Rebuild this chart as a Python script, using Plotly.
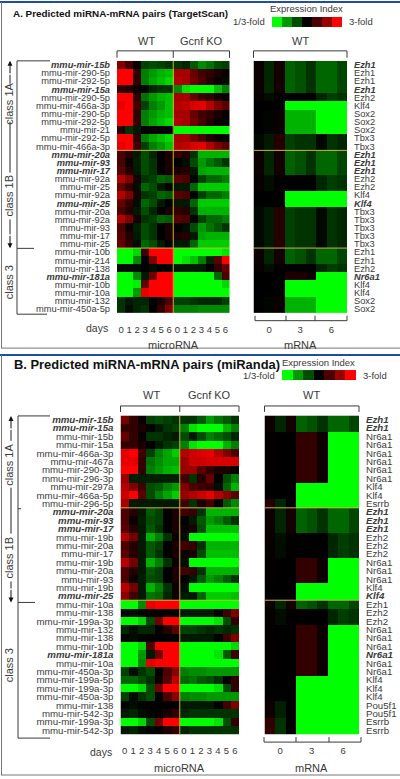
import plotly.graph_objects as go

W, H = 400, 779
FONT = "Liberation Sans"
GREY = "#3a3a3a"
COLORSCALE = [[0, "#00ff00"], [0.5, "#000000"], [1, "#ff0000"]]

def b(s):
    return f"<b><i>{s}</i></b>"

DAYS = ["0", "1", "2", "3", "4", "5", "6", "0", "1", "2", "3", "4", "5", "6"]
MRNA_DAYS = ["0", "3", "6"]
LEGEND_VALUES = [-1, -0.6, -0.3, 0, 0.3, 0.6, 1]

A_MIR_LABELS = [b("mmu-mir-15b"), "mmu-mir-290-5p", "mmu-mir-292-5p", b("mmu-mir-15a"), "mmu-mir-290-5p",
                "mmu-mir-466a-3p", "mmu-mir-290-5p", "mmu-mir-292-5p", "mmu-mir-21", "mmu-mir-292-5p",
                "mmu-mir-466a-3p", b("mmu-mir-20a"), b("mmu-mir-93"), b("mmu-mir-17"), "mmu-mir-92a", "mmu-mir-25",
                "mmu-mir-92a", b("mmu-mir-25"), "mmu-mir-20a", "mmu-mir-92a", "mmu-mir-93", "mmu-mir-17", "mmu-mir-25",
                "mmu-mir-10b", "mmu-mir-214", "mmu-mir-138", b("mmu-mir-181a"), "mmu-mir-10b", "mmu-mir-10a",
                "mmu-mir-132", "mmu-mir-450a-5p"]
A_MIR_VALUES = [
    [.5, .25, .03, -.25, -.3, -.25, -.2, -.2, -.15, -.35, -.55, -.45, -.3, -.25],
    [1, 1, .2, -.5, -.6, -.7, -.75, .65, .65, .4, .25, .2, .1, .05],
    [1, 1, .2, -.5, -.65, -.75, -.85, .7, .65, .45, .3, .15, .05, -.05],
    [.2, .15, .05, -.03, -.15, -.2, -.2, -.55, -.9, -1, -1, -1, -.75, -.5],
    [1, 1, .2, -.45, -.6, -.7, -.75, .65, .65, .4, .25, .2, .08, .03],
    [.9, 1, .25, -.25, -.5, -.6, -.75, .7, .75, .85, .9, .7, .5, .35],
    [1, 1, .2, -.5, -.6, -.7, -.75, .65, .65, .4, .25, .2, .1, .03],
    [1, 1, .2, -.5, -.65, -.75, -.85, .7, .65, .45, .3, .15, .05, -.03],
    [.15, -.2, -.1, 0, .02, .02, .02, -1, -1, -1, -1, -1, -1, -1],
    [1, 1, .2, -.5, -.65, -.75, -.85, .65, .65, .45, .3, .15, .05, -.03],
    [.9, 1, .25, -.25, -.5, -.6, -.75, .7, .75, .85, .9, .7, .5, .35],
    [.3, .15, -.1, -.3, -.15, 0, .1, .2, .15, -.2, -.7, -.7, -.7, -.7],
    [.3, .05, -.12, -.3, -.2, 0, .1, 0, -.05, -.3, -.6, -.45, -.35, -.2],
    [.35, .15, -.1, -.3, -.2, 0, .1, .1, .15, -.1, -.65, -.7, -.7, -.7],
    [.7, .5, .1, -.2, -.25, -.4, -.35, .35, .3, -.02, -.25, -.4, -.4, -.5],
    [.4, .2, -.05, -.4, -.3, -.1, 0, -.1, -.1, -.4, -.8, -.8, -.8, -.8],
    [.7, .5, .1, -.2, -.25, -.4, -.35, .35, .3, -.02, -.25, -.4, -.4, -.5],
    [.4, .2, -.05, -.4, -.3, -.1, 0, -.1, -.1, -.4, -.8, -.8, -.8, -.8],
    [.3, .15, -.1, -.3, -.15, 0, .1, .2, .15, -.2, -.7, -.7, -.7, -.7],
    [.7, .5, .1, -.2, -.25, -.4, -.35, .35, .3, -.02, -.25, -.4, -.4, -.5],
    [.3, .05, -.12, -.3, -.2, 0, .1, 0, -.05, -.3, -.6, -.45, -.35, -.2],
    [.35, .15, -.1, -.3, -.2, 0, .1, .1, .15, -.1, -.65, -.7, -.7, -.7],
    [.4, .2, -.05, -.4, -.3, -.1, 0, -.1, -.1, -.4, -.8, -.8, -.8, -.8],
    [-1, -1, -.85, .25, 1, 1, 1, -1, -1, -1, -1, -1, -1, -.9],
    [-1, -1, -.55, 0, .5, 1, 1, -1, -.9, -.75, -.5, -.15, .35, 1],
    [-.05, -.05, -.05, 0, -.05, .02, .02, -.1, -.1, -.1, -.1, 0, .2, .4],
    [-1, -1, -.55, -.1, .45, 1, 1, -1, -1, -1, -1, -1, -.4, .3],
    [-1, -1, -.95, .4, 1, 1, 1, -1, -1, -1, -1, -1, -1, -.85],
    [-1, -1, -.6, .9, 1, 1, 1, -1, -1, -1, -1, -1, -1, -1],
    [-.2, -.1, -.15, -.15, -.02, .1, .3, -.25, -.25, -.2, -.15, -.15, -.15, -.25],
    [-.2, -.05, -.15, -.2, 0, .2, .5, -.5, -.5, -.5, -.55, -.55, -.55, -.55],
]
A_MRNA_LABELS = [b("Ezh1"), "Ezh1", "Ezh1", b("Ezh1"), "Ezh2", "Klf4", "Sox2", "Sox2", "Sox2", "Tbx3", "Tbx3",
                 b("Ezh1"), b("Ezh1"), b("Ezh1"), "Ezh2", "Ezh2", "Klf4", b("Klf4"), "Tbx3", "Tbx3", "Tbx3", "Tbx3", "Tbx3",
                 "Ezh1", "Ezh1", "Ezh2", b("Nr6a1"), "Klf4", "Klf4", "Sox2", "Sox2"]
EZH1 = [.05, -.15, .08, -.38, -.32, -.2, -.4, -.4, -.27]
EZH2 = [.03, -.05, .02, 0, 0, 0, -.15, -.24, -.2]
KLF4 = [0, 0, 0, -1, -1, -1, -1, -1, -1]
SOX2 = [0, -.02, .04, -.7, -.7, -.7, -1, -1, -1]
TBX3 = [-.03, -.1, .15, -.25, -.2, -.2, -.03, -.2, -.15]
NR6A1_A = [0, 0, 0, .12, .12, .05, -1, -1, -1]
A_MRNA_VALUES = [EZH1, EZH1, EZH1, EZH1, EZH2, KLF4, SOX2, SOX2, SOX2, TBX3, TBX3,
                 EZH1, EZH1, EZH1, EZH2, EZH2, KLF4, KLF4, TBX3, TBX3, TBX3, TBX3, TBX3,
                 EZH1, EZH1, EZH2, NR6A1_A, KLF4, KLF4, SOX2, SOX2]

B_MIR_LABELS = [b("mmu-mir-15b"), b("mmu-mir-15a"), "mmu-mir-15b", "mmu-mir-15a", "mmu-mir-466a-3p", "mmu-mir-467a",
                "mmu-mir-290-3p", "mmu-mir-296-3p", "mmu-mir-297a", "mmu-mir-466a-5p", "mmu-mir-296-5p",
                b("mmu-mir-20a"), b("mmu-mir-93"), b("mmu-mir-17"), "mmu-mir-19b", "mmu-mir-20a", "mmu-mir-17",
                "mmu-mir-19b", "mmu-mir-20a", "mmu-mir-93", "mmu-mir-19b", b("mmu-mir-25"),
                "mmu-mir-10a", "mmu-mir-138", "mmu-mir-199a-3p", "mmu-mir-132", "mmu-mir-138", "mmu-mir-10b",
                b("mmu-mir-181a"), "mmu-mir-10a", "mmu-mir-450a-3p", "mmu-mir-199a-5p", "mmu-mir-199a-3p",
                "mmu-mir-450a-3p", "mmu-mir-138", "mmu-mir-542-3p", "mmu-mir-199a-3p", "mmu-mir-542-3p"]
B_MIR_VALUES = [
    [.45, .2, .03, -.25, -.3, -.25, -.2, -.2, -.2, -.35, -.6, -.45, -.35, -.2],
    [.2, .2, .1, -.02, -.1, -.2, -.25, -.5, -.9, -1, -1, -1, -.7, -.5],
    [.4, .2, .03, -.2, -.2, -.15, -.1, -.3, -.1, -.3, -.5, -.4, -.3, -.15],
    [.2, .2, .1, 0, -.1, -.2, -.25, -.5, -.9, -1, -1, -1, -.7, -.5],
    [.9, 1, .25, -.25, -.5, -.65, -.8, .7, .8, .85, .9, .7, .5, .3],
    [.9, .9, .2, -.45, -.55, -.65, -.65, .6, .8, .8, .85, .85, .85, .85],
    [1, 1, .2, -.5, -.6, -.7, -.75, .6, .6, .35, .2, .1, .1, .02],
    [.6, -.12, -.12, -.12, -.12, -.12, -.12, .25, -.2, .15, .4, 0, -.3, -.5],
    [.7, .5, .25, -.3, -.35, -.5, -.6, .5, .3, .25, .2, -.05, -.4, -.7],
    [.8, 1, .35, -.3, -.5, -.65, -.8, .6, .7, .8, .9, .7, .55, .35],
    [.65, -.1, -.1, -.1, -.1, -.1, -.1, .25, -.2, .1, .25, 0, -.35, -.55],
    [.3, .15, -.1, -.35, -.25, 0, .1, .25, .2, -.2, -.7, -.7, -.7, -.7],
    [.3, .05, -.12, -.3, -.25, 0, .1, 0, -.1, -.35, -.6, -.5, -.35, -.2],
    [.35, .15, -.1, -.35, -.2, 0, .1, .05, .1, -.3, -.75, -.75, -.75, -.75],
    [.7, .45, -.1, -.7, -.5, -.2, .05, -.05, -1, -1, -1, -1, -1, -1],
    [.3, .15, -.1, -.35, -.25, 0, .1, .25, .2, -.2, -.7, -.7, -.7, -.7],
    [.35, .15, -.1, -.35, -.2, 0, .1, .05, .1, -.3, -.75, -.75, -.75, -.75],
    [.7, .45, -.1, -.7, -.5, -.2, .05, -.05, -1, -1, -1, -1, -1, -1],
    [.3, .15, -.1, -.35, -.25, 0, .1, .25, .2, -.2, -.7, -.7, -.7, -.7],
    [.3, .05, -.12, -.3, -.25, 0, .1, 0, -.1, -.35, -.6, -.5, -.35, -.2],
    [.7, .45, -.1, -.7, -.5, -.2, .05, -.05, -1, -1, -1, -1, -1, -1],
    [.55, .25, -.1, -.45, -.4, -.15, .05, -.1, -.1, -.4, -.8, -.8, -.8, -.75],
    [-1, -1, -.55, .9, 1, 1, 1, -1, -1, -1, -1, -1, -1, -1],
    [-.02, -.05, -.02, 0, 0, 0, 0, -.1, -.1, -.1, -.1, 0, .25, .5],
    [-1, -1, -.85, -.3, .45, 1, 1, -1, -1, -1, -1, -.9, -.3, .2],
    [-.15, -.05, -.15, -.15, 0, .15, .35, -.25, -.25, -.2, -.15, -.2, -.15, -.2],
    [-.02, -.05, -.02, 0, 0, 0, 0, -.1, -.1, -.1, -.1, 0, .25, .5],
    [-1, -1, -.85, .3, 1, 1, 1, -1, -1, -1, -1, -1, -1, -.85],
    [-1, -1, -.6, -.1, .45, 1, 1, -1, -1, -1, -1, -.9, -.35, .25],
    [-1, -1, -.55, .9, 1, 1, 1, -1, -1, -1, -1, -1, -1, -1],
    [-.25, -.05, -.2, -.3, 0, .3, .55, -.5, -.55, -.55, -.6, -.6, -.6, -.6],
    [-.4, -.4, -.3, -.2, .05, .35, .75, -.4, -.45, -.35, -.3, -.2, 0, .2],
    [-1, -1, -.85, -.3, .45, 1, 1, -1, -1, -1, -1, -.9, -.3, .2],
    [-.25, -.05, -.2, -.3, 0, .3, .55, -.5, -.55, -.55, -.6, -.6, -.6, -.6],
    [-.02, -.05, -.02, 0, 0, 0, 0, -.1, -.1, -.1, -.1, 0, .25, .5],
    [-.1, -.15, -.05, -.02, .02, .1, .2, -.15, -.2, -.2, -.2, -.2, -.2, -.2],
    [-1, -1, -.85, -.3, .45, 1, 1, -1, -1, -1, -1, -.9, -.3, .2],
    [-.1, -.15, -.05, -.02, .02, .1, .2, -.15, -.2, -.2, -.2, -.2, -.2, -.2],
]
B_MRNA_LABELS = [b("Ezh1"), b("Ezh1"), "Nr6a1", "Nr6a1", "Nr6a1", "Nr6a1", "Nr6a1", "Nr6a1", "Klf4", "Klf4", "Esrrb",
                 b("Ezh1"), b("Ezh1"), b("Ezh1"), "Ezh2", "Ezh2", "Ezh2", "Nr6a1", "Nr6a1", "Nr6a1", "Klf4", b("Klf4"),
                 "Ezh1", "Ezh2", "Ezh2", "Nr6a1", "Nr6a1", "Nr6a1", b("Nr6a1"), "Nr6a1", "Nr6a1", "Klf4", "Klf4", "Klf4",
                 "Pou5f1", "Pou5f1", "Esrrb", "Esrrb"]
NR6A1 = [.02, 0, 0, .2, .2, .05, -1, -1, -1]
ESRRB_A = [.15, -.15, 0, -1, -1, -1, -1, -1, -1]
POU5F1 = [.05, -.12, 0, -1, -1, -1, -1, -1, -1]
ESRRB = [.2, -.2, 0, -1, -1, -1, -1, -1, -1]
B_MRNA_VALUES = [EZH1, EZH1, NR6A1, NR6A1, NR6A1, NR6A1, NR6A1, NR6A1, KLF4, KLF4, ESRRB_A,
                 EZH1, EZH1, EZH1, EZH2, EZH2, EZH2, NR6A1, NR6A1, NR6A1, KLF4, KLF4,
                 EZH1, EZH2, EZH2, NR6A1, NR6A1, NR6A1, NR6A1, NR6A1, NR6A1, KLF4, KLF4, KLF4,
                 POU5F1, POU5F1, ESRRB, ESRRB]

fig = go.Figure()
layout = dict(width=W, height=H, margin=dict(l=0, r=0, t=0, b=0), paper_bgcolor="white", plot_bgcolor="white",
              showlegend=False, font=dict(family=FONT, color=GREY))
shapes, annos = [], []
axis_n = [0]

def px(x):
    return x / W

def py(y):
    return 1 - y / H

def line(x0, y0, x1, y1, color=GREY, width=1):
    shapes.append(dict(type="line", xref="paper", yref="paper", x0=px(x0), y0=py(y0), x1=px(x1), y1=py(y1),
                       line=dict(color=color, width=width)))

def text(x, y, s, size=10, anchor="center", color=GREY, angle=0):
    annos.append(dict(xref="paper", yref="paper", x=px(x), y=py(y), text=s, showarrow=False, xanchor=anchor,
                      yanchor="middle", textangle=angle, font=dict(size=size, color=color, family=FONT)))

def arrow(x, y_head, dy):
    annos.append(dict(xref="paper", yref="paper", x=px(x), y=py(y_head), ax=0, ay=dy, axref="pixel", ayref="pixel",
                      text="", showarrow=True, arrowhead=2, arrowsize=1, arrowwidth=1, arrowcolor="#111"))

def heat(z, x0, x1, y0, y1, ylabels=None, side="left", tickvals=None, ticktext=None, standoff=5, xstand=9, lab_size=10):
    axis_n[0] += 1
    n = axis_n[0]
    s = "" if n == 1 else str(n)
    fig.add_trace(go.Heatmap(z=z, colorscale=COLORSCALE, zmin=-1, zmax=1, showscale=False, zsmooth=False,
                             xaxis="x" + s, yaxis="y" + s, hoverinfo="skip"))
    layout["xaxis" + s] = dict(domain=[px(x0), px(x1)], range=[-.5, len(z[0]) - .5], anchor="y" + s, showgrid=False,
                               zeroline=False, showline=False, ticks="", tickvals=tickvals or [], ticktext=ticktext or [],
                               ticklabelstandoff=xstand, tickfont=dict(size=9.5, family=FONT, color=GREY))
    layout["yaxis" + s] = dict(domain=[py(y1), py(y0)], range=[len(z) - .5, -.5], anchor="x" + s, showgrid=False,
                               zeroline=False, showline=False, ticks="", side=side,
                               tickvals=list(range(len(ylabels))) if ylabels else [], ticktext=ylabels or [],
                               ticklabelstandoff=standoff, tickfont=dict(size=lab_size, family=FONT, color=GREY))
    return s

def yellow(s, row):
    shapes.append(dict(type="line", xref=f"x{s} domain", yref=f"y{s}", x0=0, x1=1, y0=row - .5, y1=row - .5,
                       line=dict(color="#c9b53a", width=1), layer="above"))

def yellow_v(s, col):
    shapes.append(dict(type="line", xref=f"x{s}", yref=f"y{s} domain", x0=col - .5, x1=col - .5, y0=0, y1=1,
                       line=dict(color="#c9b53a", width=1), layer="above"))

def bracket_top(x0, x1, ytop, ybot, mid=None):
    line(x0, ytop, x1, ytop)
    line(x0, ytop, x0, ybot)
    line(x1, ytop, x1, ybot)
    if mid:
        line(mid, ytop, mid, ybot)

def class_marks(xa, xb, top, mid, bot, breaks, tx, labels, top_end, mid_end, bot_end):
    line(xb, top, xb, bot)
    line(xb, top, top_end, top)
    line(xb, mid, mid_end, mid)
    line(xb, bot, bot_end, bot)
    for y0, y1 in breaks:
        line(xa, y0, xa, y1, color="#222")
    arrow(xa, top, 14)
    arrow(xa, mid, -14)
    for lab, yc in labels:
        text(tx, yc, lab, size=11, angle=-90)

def panel(title, title_x, title_y, title_size, mir_z, mir_lab, mrna_z, mrna_lab, g):
    text(title_x, title_y, f"<b>{title}</b>", size=title_size, anchor="left", color="#111")
    s = heat(mir_z, g["mx0"], g["mx1"], g["y0"], g["y1"], ylabels=mir_lab, tickvals=list(range(14)), ticktext=DAYS,
             standoff=g["stand"], lab_size=g["lab"])
    for r in g["splits"]:
        yellow(s, r)
    yellow_v(s, 7)
    s2 = heat(mrna_z, g["rx0"], g["rx1"], g["y0"], g["y1"], ylabels=mrna_lab, side="right", tickvals=[1, 4, 7],
              ticktext=MRNA_DAYS, standoff=g["stand"], lab_size=g["lab"])
    for r in g["splits"]:
        yellow(s2, r)
    heat([LEGEND_VALUES], g["lx0"], g["lx1"], g["ly0"], g["ly1"])
    text(g["et"], g["ly0"] - 8, "Expression Index", size=9.5)
    text(g["lx0"] - 5, (g["ly0"] + g["ly1"]) / 2, "1/3-fold", size=9.5, anchor="right")
    text(g["lx1"] + 5, (g["ly0"] + g["ly1"]) / 2, "3-fold", size=9.5, anchor="left")
    mid = (g["mx0"] + g["mx1"]) / 2
    bracket_top(g["mx0"], g["mx1"], g["by0"], g["by1"], mid)
    bracket_top(g["rx0"], g["rx1"], g["by0"], g["by1"])
    text((g["mx0"] + mid) / 2 + 1, g["hy"], "WT", size=11)
    text((mid + g["mx1"]) / 2, g["hy"], "Gcnf KO", size=11)
    text((g["rx0"] + g["rx1"]) / 2, g["hy"], "WT", size=11)
    yb = g["y1"] + 7.5
    ticks = g["rt"]
    line(ticks[0], yb, ticks[-1], yb)
    for t in ticks:
        line(t, yb - 5, t, yb)
    text(g["mx0"] - 7, g["dy"], "days", size=10.5, anchor="right")
    text(mid, g["ty"], "microRNA", size=11)
    text((g["rx0"] + g["rx1"]) / 2, g["ty"], "mRNA", size=11)

panel("A. Predicted miRNA-mRNA pairs (TargetScan)", 11, 13, 9.9, A_MIR_VALUES, A_MIR_LABELS, A_MRNA_VALUES, A_MRNA_LABELS,
      dict(mx0=117, mx1=229.5, rx0=253.5, rx1=347, y0=60, y1=313, splits=[11, 23], stand=6, lab=9.3,
           lx0=272, lx1=342, ly0=16, ly1=26, et=306, by0=50, by1=57, hy=40,
           rt=[255, 286, 315, 347], dy=328, ty=345))
panel("B. Predicted miRNA-mRNA pairs (miRanda)", 12, 364, 12.9, B_MIR_VALUES, B_MIR_LABELS, B_MRNA_VALUES, B_MRNA_LABELS,
      dict(mx0=120.5, mx1=239, rx0=264.5, rx1=359, y0=415.5, y1=735.5, splits=[11, 22], stand=6, lab=9.7,
           lx0=282, lx1=356, ly0=370, ly1=380, et=318, by0=406, by1=412, hy=395,
           rt=[264, 296, 329, 361], dy=753, ty=769))

class_marks(10, 17, 60, 248, 314, [(74, 83), (121, 172), (219, 234)], 9,
            [("class 1A", 103), ("class 1B", 195), ("class 3", 282)], 50, 34, 47)
class_marks(11, 18, 416, 603, 739, [(430, 441), (488, 534), (582, 589)], 9,
            [("class 1A", 465), ("class 1B", 558), ("class 3", 666)], 50, 35, 50)
line(18, 509, 21, 509)

BLUE = "#1f4f9c"
FRAME = "#777777"
line(0, 1, 400, 1, color=BLUE, width=2)
line(1.5, 1, 1.5, 348, color=FRAME, width=1)
line(1, 348, 400, 348, color=FRAME, width=1)
line(0, 355, 400, 355, color=BLUE, width=2)
line(1.5, 355, 1.5, 776, color=FRAME, width=1)
line(1, 776, 400, 776, color=FRAME, width=1)

layout["shapes"] = shapes
layout["annotations"] = annos
fig.update_layout(**layout)
fig.write_html("out.html", config={"displayModeBar": False},
               post_script="document.body.style.margin='0';document.body.style.overflow='hidden';")
